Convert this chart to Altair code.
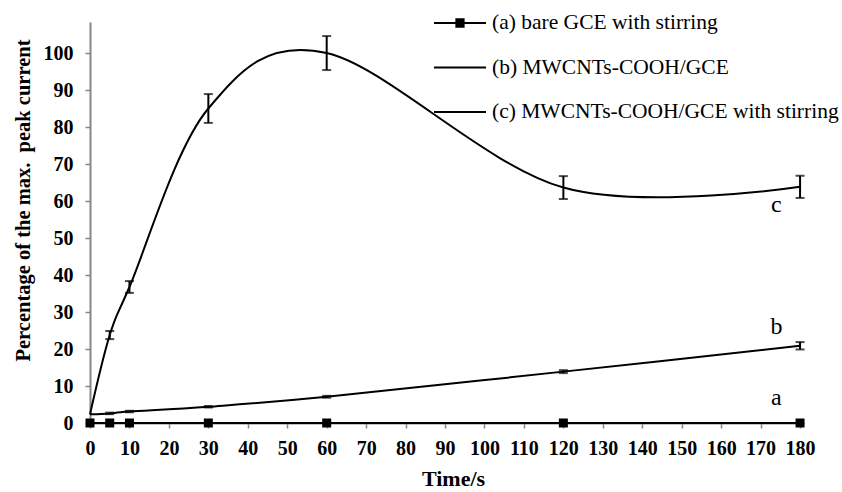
import altair as alt
import pandas as pd

# ---- data ----
time = [0, 5, 10, 30, 60, 120, 180]
a_vals = [0, 0, 0, 0, 0, 0, 0]
b_vals = [2.35, 2.6, 3.1, 4.4, 7.1, 13.9, 20.9]
b_err = [0, 0.2, 0.2, 0.2, 0.25, 0.4, 1.0]
c_vals = [2.35, 23.8, 36.8, 85.1, 100.1, 63.7, 63.9]
c_err = [0, 1.1, 1.6, 3.9, 4.6, 3.1, 3.0]
series_names = [
    "(a) bare GCE with stirring",
    "(b) MWCNTs-COOH/GCE",
    "(c) MWCNTs-COOH/GCE with stirring",
]
curve_tags = ["a", "b", "c"]
tag_x = [174, 174, 174]
tag_y = [6.8, 26.1, 59.1]
x_ticks = list(range(0, 181, 10))
y_ticks = list(range(0, 101, 10))

FONT = "Liberation Serif"

rows = []
for name, vals, errs in [
    (series_names[0], a_vals, [0] * len(time)),
    (series_names[1], b_vals, b_err),
    (series_names[2], c_vals, c_err),
]:
    for t, v, e in zip(time, vals, errs):
        rows.append({"series": name, "time": t, "value": v, "err": e,
                     "lo": v - e, "hi": v + e})
df = pd.DataFrame(rows)
tags = pd.DataFrame({"tag": curve_tags, "time": tag_x, "value": tag_y})

xscale = alt.Scale(domain=[0, 181], nice=False, zero=False)
yscale = alt.Scale(domain=[0, 108.5], nice=False)

x_axis = alt.Axis(values=x_ticks, title="Time/s", grid=False,
                  titleX=363, titleY=55, titleBaseline="middle",
                  labelPadding=10, tickSize=5, labelOverlap=False,
                  labelFlush=False)
y_axis = alt.Axis(values=y_ticks,
                  title="Percentage of the max.\u00a0 peak current",
                  grid=False, titleX=-67, titleY=178,
                  titleBaseline="middle", titleAngle=-90,
                  labelPadding=12, tickSize=5, labelOverlap=False)


def X(field):
    return alt.X(field, scale=xscale, axis=x_axis)


def Y(field):
    return alt.Y(field, scale=yscale, axis=y_axis)


base = alt.Chart(df)

lines = base.mark_line(interpolate="cardinal", color="black", strokeWidth=2).encode(
    x=X("time:Q"), y=Y("value:Q"), detail="series:N")

squares = base.transform_filter(alt.datum.series == series_names[0]).mark_point(
    shape="square", filled=True, size=81, color="black", opacity=1).encode(
    x=X("time:Q"), y=Y("value:Q"))

errdf = base.transform_filter(alt.datum.err > 0)
err_rules = errdf.mark_rule(color="black", strokeWidth=2).encode(
    x=X("time:Q"), y=Y("lo:Q"), y2="hi:Q")
cap_lo = errdf.mark_tick(orient="horizontal", size=9, thickness=2, color="black").encode(
    x=X("time:Q"), y=Y("lo:Q"))
cap_hi = errdf.mark_tick(orient="horizontal", size=9, thickness=2, color="black").encode(
    x=X("time:Q"), y=Y("hi:Q"))

# legend glyphs: a line, and for (a) a line with a solid square on it
sq = "".join(f"M-0.14,{v}H0.14" for v in ["-0.12", "-0.06", "0", "0.06", "0.12"])
path_a = "M-1,0H1M-0.14,-0.14H0.14V0.14H-0.14Z" + sq
path_b = "M-1,0H1"
legend_layer = base.mark_point(filled=False, opacity=0, size=2704, color="black",
                               strokeWidth=2).encode(
    x=X("time:Q"), y=Y("value:Q"),
    shape=alt.Shape("series:N",
                    scale=alt.Scale(domain=series_names, range=[path_a, path_b, path_b]),
                    legend=alt.Legend(title=None, orient="none", legendX=343, legendY=-26,
                                      padding=0, labelFont=FONT, labelFontSize=21.5,
                                      labelFontWeight="normal", labelColor="black",
                                      labelLimit=0, labelOffset=5, rowPadding=6.5,
                                      symbolSize=2704, symbolStrokeWidth=2,
                                      symbolStrokeColor="black", symbolFillColor="black",
                                      symbolOpacity=1)))

tag_text = alt.Chart(tags).mark_text(font=FONT, fontSize=24, color="black",
                                     baseline="middle").encode(
    x=X("time:Q"), y=Y("value:Q"), text="tag:N")

chart = alt.layer(lines, err_rules, cap_lo, cap_hi, squares, legend_layer, tag_text).properties(
    width=714, height=401,
    autosize=alt.AutoSizeParams(type="none"),
    padding={"left": 90, "top": 22, "right": 38, "bottom": 69},
).configure_view(stroke=None).configure_axis(
    domainColor="#868686", tickColor="#868686", domainWidth=2, tickWidth=1.5,
    labelFont=FONT, labelFontSize=20, labelFontWeight="bold", labelColor="black",
    titleFont=FONT, titleFontSize=22, titleFontWeight="bold", titleColor="black",
).configure_axisY(titleFontSize=20.5)

chart.save("out.html", embed_options={"renderer": "svg", "actions": False})
